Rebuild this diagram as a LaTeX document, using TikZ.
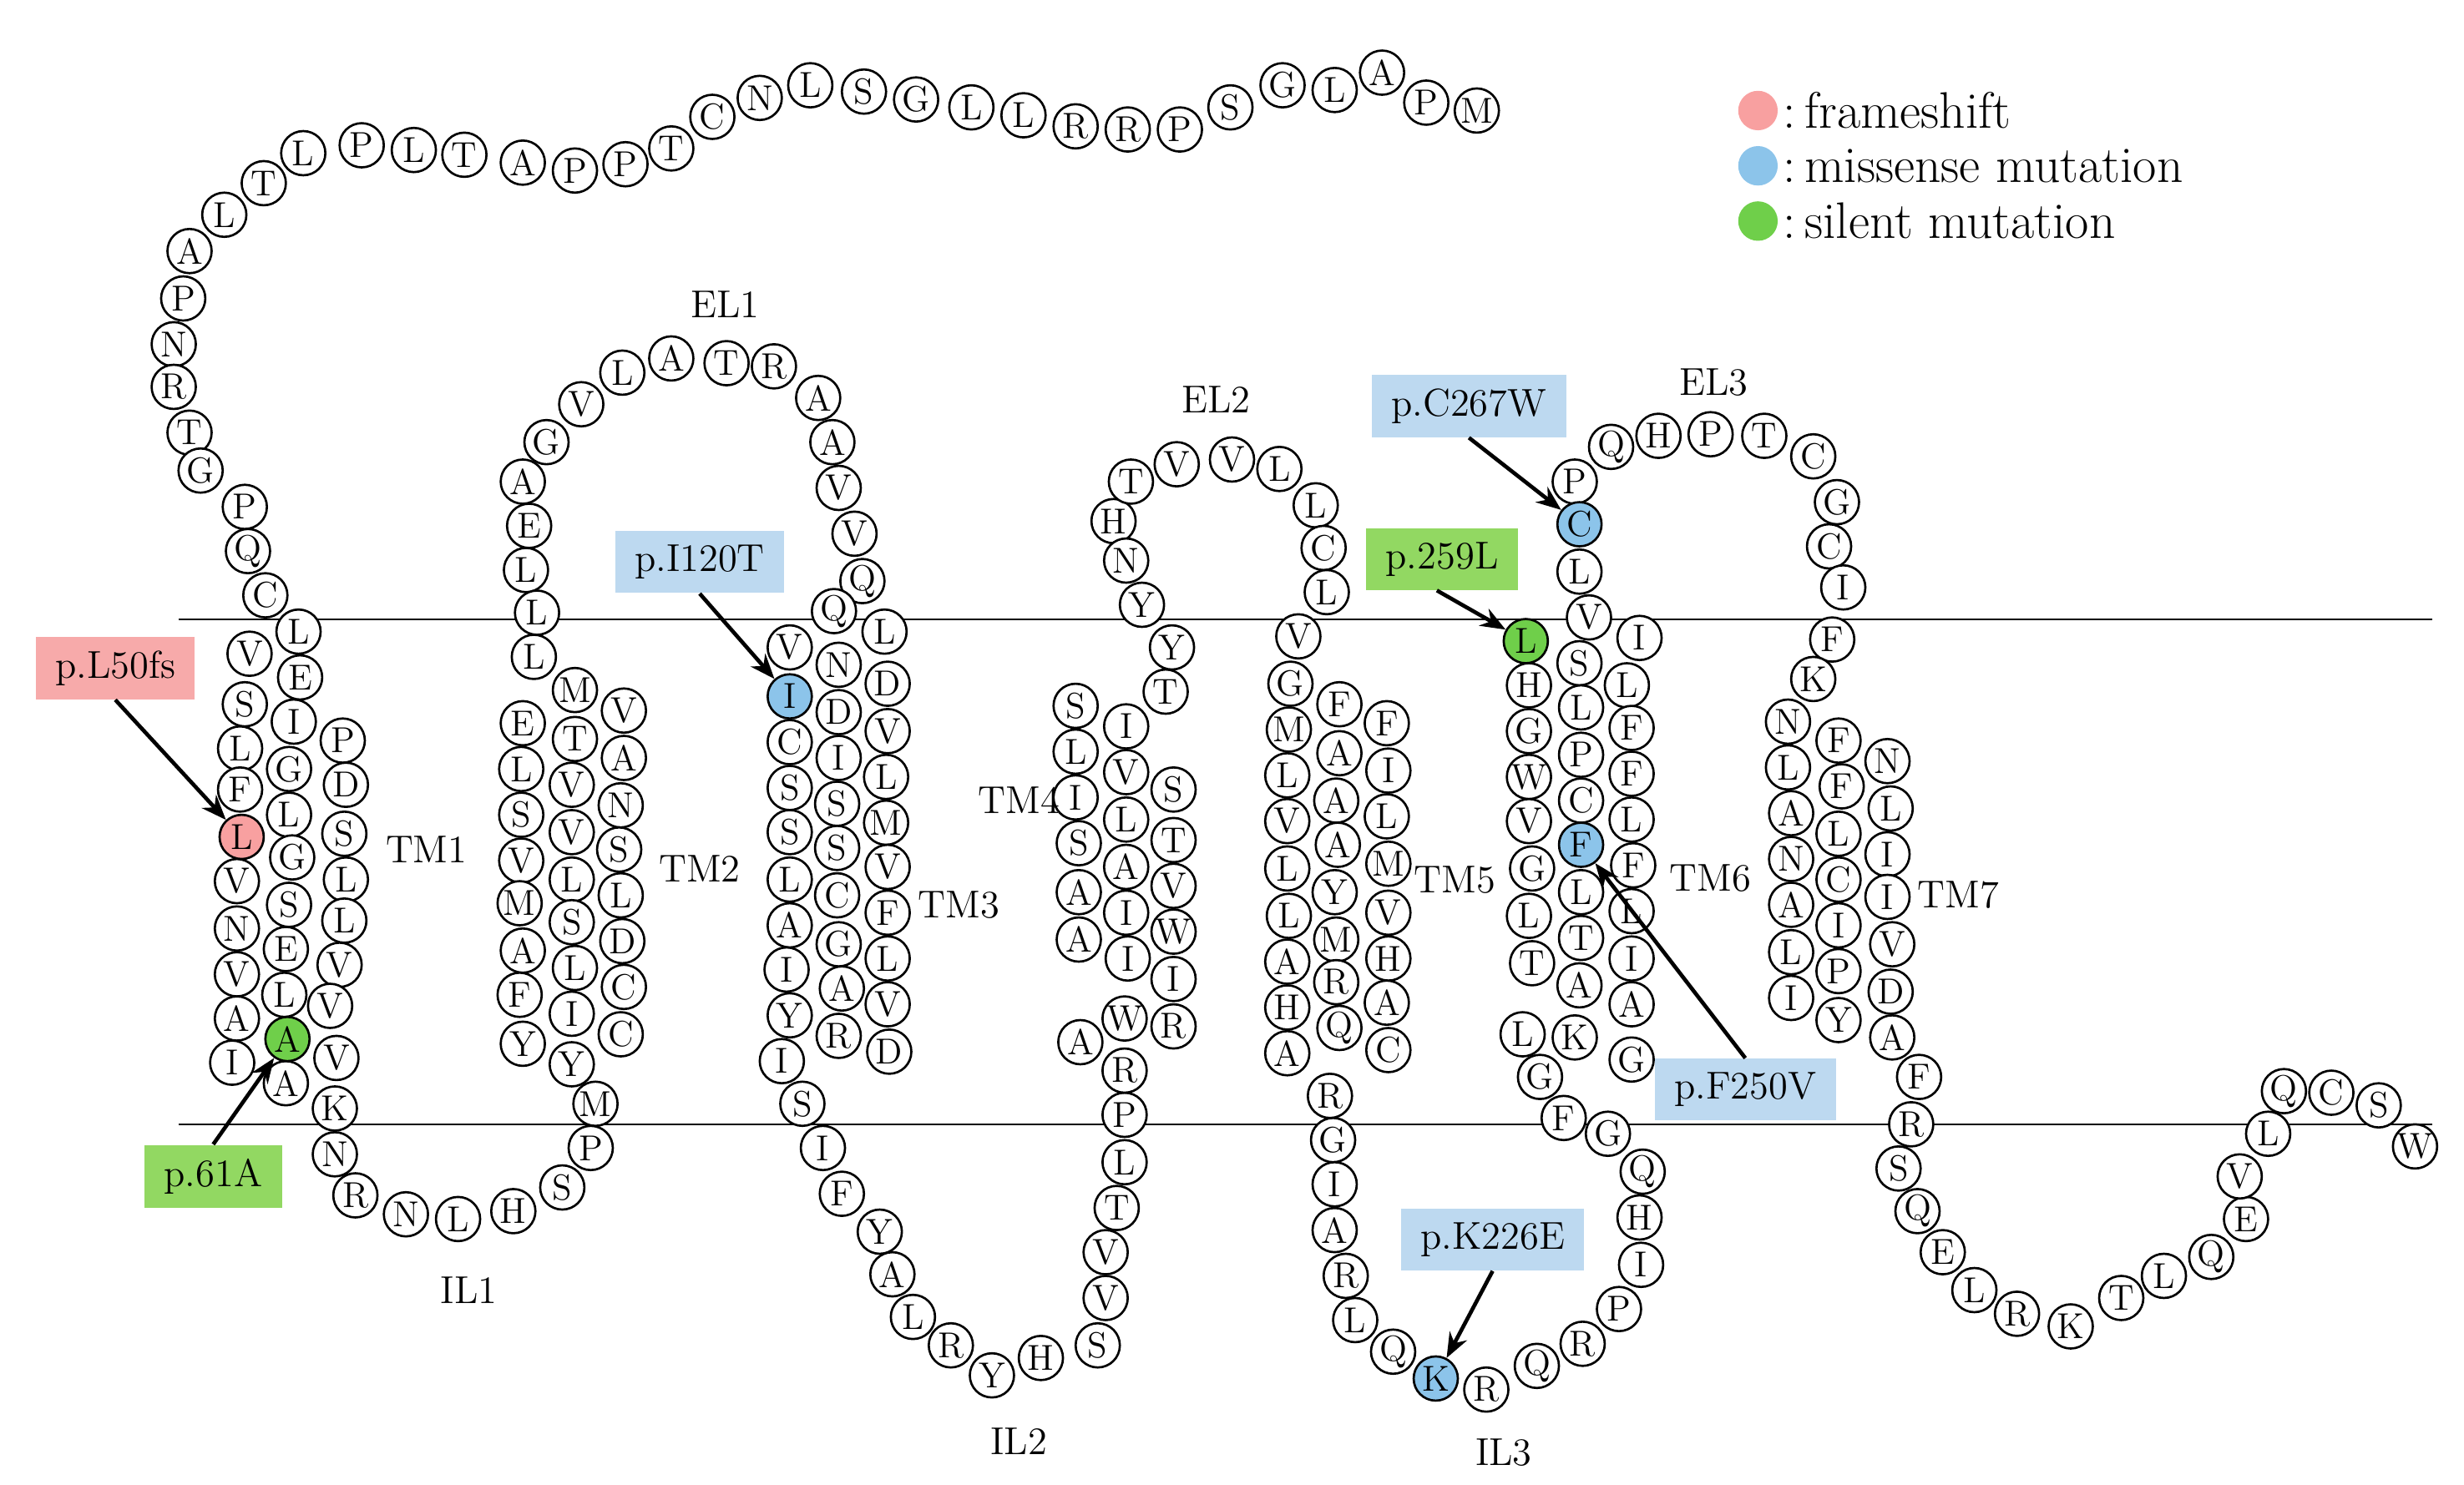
\documentclass[tikz,border=0pt]{standalone}
\usetikzlibrary{arrows.meta}
\definecolor{cpink}{HTML}{F8A0A0}
\definecolor{cblue}{HTML}{8CC4EA}
\definecolor{cgreen}{HTML}{6FCF4A}
\definecolor{bpink}{HTML}{F7AAAA}
\definecolor{bblue}{HTML}{BDD9F0}
\definecolor{bgreen}{HTML}{92D862}
\begin{document}
\begin{tikzpicture}[x=0.02cm,y=-0.02cm,
  res/.style={circle,draw=black,line width=0.8pt,fill=white,minimum size=0.56cm,inner sep=0pt,font=\fontsize{13}{13}\selectfont},
  lab/.style={font=\fontsize{14}{14}\selectfont},
  mbox/.style={inner xsep=7pt,inner ysep=5pt,font=\fontsize{14}{14}\selectfont,minimum height=0.68cm},
  arr/.style={-{Stealth[length=9pt,width=7pt]},line width=1.4pt},
  mem/.style={line width=0.6pt}]
\useasboundingbox (0,0) rectangle (1560,940);
\coordinate (m1a) at (113,392); \coordinate (m1b) at (1540,392);
\coordinate (m2a) at (113,712); \coordinate (m2b) at (1540,712);
\draw[mem] (m1a) -- (m1b);
\draw[mem] (m2a) -- (m2b);
\foreach \x/\y/\l [count=\i] in {
935/70/M,903/65/P,875/46/A,845/57/L,812/54/G,779/68/S,747/82/P,714/82/R,681/80/R,648/73/L,615/68/L,580/63/G,547/58/S,513/54/L,481/62/N,451/74/C,425/94/T,396/104/P,364/108/P,331/103/A,294/98/T,262/95/L,229/92/P,192/97/L,167/116/T,142/136/L,120/159/A,116/189/P,110/218/N,110/245/R,120/274/T,127/298/G,155/321/P,157/349/Q,168/377/C,
158/414/V,155/446/S,152/474/L,152/500/F,150/558/V,150/588/N,150/617/V,150/645/A,147/673/I,
189/400/L,190/429/E,186/457/I,183/487/G,183/516/L,185/543/G,183/573/S,181/601/E,180/630/L,181/686/A,
217/469/P,219/497/D,218/528/S,219/557/L,218/583/L,215/611/V,209/637/V,213/670/V,212/702/K,212/731/N,
225/757/R,257/769/N,290/772/L,325/767/H,356/752/S,374/727/P,377/699/M,
331/305/A,335/333/E,333/361/L,340/388/L,338/416/L,331/458/E,330/487/L,330/516/S,330/545/V,329/572/M,331/602/A,329/630/F,331/661/Y,
364/437/M,364/468/T,362/497/V,362/527/V,362/557/L,362/584/S,364/613/L,362/642/I,362/674/Y,
395/450/V,395/480/A,393/510/N,392/538/S,393/567/L,394/596/D,395/625/C,393/655/C,
346/280/G,368/256/V,394/236/L,425/227/A,460/230/T,490/232/R,518/252/A,527/280/A,531/309/V,541/338/V,546/368/Q,
560/400/L,562/433/D,562/463/V,561/492/L,561/521/M,562/549/V,562/578/F,562/607/L,562/636/V,563/666/D,
500/410/V,500/470/C,500/499/S,500/527/S,500/557/L,500/586/A,498/614/I,500/643/Y,495/672/I,
528/387/Q,531/421/N,531/451/D,531/480/I,530/509/S,530/537/S,530/567/C,531/598/G,533/626/A,531/656/R,
508/699/S,521/727/I,533/756/F,557/780/Y,565/807/A,578/834/L,602/852/R,628/871/Y,659/860/H,695/852/S,700/822/V,700/793/V,707/765/T,712/736/L,712/706/P,712/678/R,684/660/A,
681/447/S,681/476/L,681/505/I,683/534/S,683/565/A,683/595/A,
713/460/I,713/489/V,713/519/L,713/549/A,713/578/I,714/607/I,712/645/W,
743/500/S,743/532/T,743/561/V,743/590/W,743/620/I,743/650/R,
705/330/H,713/355/N,723/383/Y,742/410/Y,738/438/T,
716/305/T,745/294/V,780/291/V,810/297/L,833/320/L,838/347/C,840/375/L,822/403/V,817/433/G,816/462/M,815/491/L,815/520/V,815/550/L,816/580/L,815/609/A,815/638/H,815/667/A,
848/446/F,848/477/A,846/507/A,847/535/A,845/565/Y,846/595/M,846/622/R,848/651/Q,
878/458/F,879/488/I,878/517/L,879/547/M,879/578/V,879/607/H,878/635/A,879/665/C,
842/694/R,844/722/G,845/750/I,845/779/A,852/808/R,858/836/L,882/856/Q,941/880/R,973/865/Q,1002/851/R,1025/829/P,1039/801/I,1038/771/H,1040/742/Q,1018/718/G,990/708/F,975/682/G,964/655/L,
968/434/H,968/463/G,968/492/W,968/520/V,970/550/G,968/580/L,970/610/T,
1000/362/L,1006/391/V,1000/420/S,1001/448/L,1001/478/P,1001/507/C,1001/565/L,1001/594/T,1000/624/A,997/657/K,
1038/404/I,1030/434/L,1033/461/F,1033/490/F,1033/519/L,1034/548/F,1033/577/L,1033/607/I,1033/636/A,1033/671/G,
997/305/P,1020/283/Q,1050/276/H,1083/275/P,1117/276/T,1148/289/C,1163/318/G,1158/346/C,1167/372/I,1160/405/F,1148/430/K,1132/457/N,1132/486/L,1134/515/A,1134/544/N,1134/573/A,1134/603/L,1134/632/I,
1164/469/F,1166/498/F,1164/528/L,1164/557/C,1164/586/I,1164/615/P,1164/646/Y,
1195/482/N,1197/512/L,1195/541/I,1195/568/I,1198/598/V,1197/628/D,1198/657/A,1215/682/F,1210/712/R,1202/740/S,1214/767/Q,1230/793/E,1250/817/L,1277/832/R,1311/840/K,1343/822/T,1370/808/L,1400/796/Q,1422/772/E,1418/745/V,1436/718/L,1446/691/Q,1476/692/C,1506/700/S,1529/726/W}
  \node[res] (r\i) at (\x,\y) {\l};
% mutated residues
\node[res,fill=cpink] (mL50) at (153,530) {L};
\node[res,fill=cgreen] (m61) at (182,658) {A};
\node[res,fill=cblue] (mI120) at (500,441) {I};
\node[res,fill=cblue] (mC267) at (1000,332) {C};
\node[res,fill=cgreen] (m259) at (966,406) {L};
\node[res,fill=cblue] (mF250) at (1001,535) {F};
\node[res,fill=cblue] (mK226) at (909,873) {K};
% region labels
\node[lab] (tEL1) at (459,193) {EL1};
\node[lab] (tEL2) at (770,253) {EL2};
\node[lab] (tEL3) at (1085,242) {EL3};
\node[lab] (tTM1) at (270,538) {TM1};
\node[lab] (tTM2) at (443,550) {TM2};
\node[lab] (tTM3) at (607,573) {TM3};
\node[lab] (tTM4) at (645,507) {TM4};
\node[lab] (tTM5) at (921,557) {TM5};
\node[lab] (tTM6) at (1083,556) {TM6};
\node[lab] (tTM7) at (1240,567) {TM7};
\node[lab] (tIL1) at (297,817) {IL1};
\node[lab] (tIL2) at (645,913) {IL2};
\node[lab] (tIL3) at (952,920) {IL3};
% mutation labels
\node[mbox,fill=bpink] (lL50) at (73,423) {p.L50fs};
\node[mbox,fill=bgreen] (l61) at (135,745) {p.61A};
\node[mbox,fill=bblue] (lI120) at (443,356) {p.I120T};
\node[mbox,fill=bblue] (lC267) at (930,257) {p.C267W};
\node[mbox,fill=bgreen] (l259) at (913,354) {p.259L};
\node[mbox,fill=bblue] (lF250) at (1105,690) {p.F250V};
\node[mbox,fill=bblue] (lK226) at (945,785) {p.K226E};
\draw[arr] (lL50.south) -- (mL50);
\draw[arr] (l61.north) -- (m61);
\draw[arr] (lI120.south) -- (mI120);
\draw[arr] (lC267.south) -- (mC267);
\draw[arr] (l259.south west) ++(45,0) coordinate (c259) (c259) -- (m259);
\draw[arr] (lF250.north) -- (mF250);
\draw[arr] (lK226.south) -- (mK226);
% legend
\node[circle,fill=cpink,minimum size=0.5cm,inner sep=0pt] (g1) at (1113,70) {};
\node[circle,fill=cblue,minimum size=0.5cm,inner sep=0pt] (g2) at (1113,105) {};
\node[circle,fill=cgreen,minimum size=0.5cm,inner sep=0pt] (g3) at (1113,140) {};
\node[anchor=west,font=\fontsize{18.5}{18.5}\selectfont,inner xsep=1pt] (t1) at (1127,70) {:\,frameshift};
\node[anchor=west,font=\fontsize{18.5}{18.5}\selectfont,inner xsep=1pt] (t2) at (1127,105) {:\,missense mutation};
\node[anchor=west,font=\fontsize{18.5}{18.5}\selectfont,inner xsep=1pt] (t3) at (1127,140) {:\,silent mutation};
\end{tikzpicture}
\end{document}
